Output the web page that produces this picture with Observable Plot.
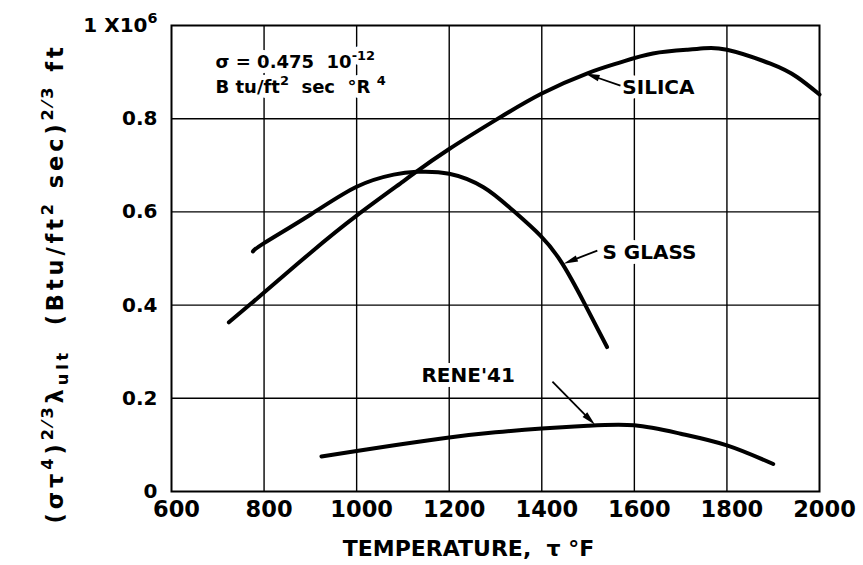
<!DOCTYPE html>
<html><head><meta charset="utf-8">
<script src="https://cdn.jsdelivr.net/npm/d3@7"></script>
<script src="https://cdn.jsdelivr.net/npm/@observablehq/plot@0.6"></script>
<style>
body{margin:0;background:#fff}
#chart svg{font-family:"DejaVu Sans",sans-serif;font-weight:bold;background:#fff;color:#000}
</style>
</head><body><div id="chart"></div>
<script>
// ---- data (values in units of 10^6) ----
const silicaT = [724, 774, 800, 900, 1000, 1100, 1127, 1200, 1300, 1400, 1500, 1570, 1640, 1715, 1750, 1800, 1894, 1952, 2000];
const silicaV = [0.363, 0.405, 0.427, 0.512, 0.592, 0.665, 0.685, 0.735, 0.797, 0.854, 0.898, 0.921, 0.940, 0.948, 0.951, 0.948, 0.918, 0.889, 0.852];
const sglassT = [776, 800, 900, 1000, 1080, 1130, 1200, 1274, 1332, 1397, 1445, 1491, 1541];
const sglassV = [0.515, 0.533, 0.594, 0.654, 0.680, 0.686, 0.682, 0.653, 0.608, 0.549, 0.488, 0.406, 0.310];
const reneT = [924, 1000, 1100, 1200, 1300, 1400, 1500, 1600, 1700, 1800, 1900];
const reneV = [0.075, 0.087, 0.102, 0.116, 0.127, 0.135, 0.141, 0.142, 0.124, 0.099, 0.059];

const xTicks = [600, 800, 1000, 1200, 1400, 1600, 1800, 2000];
const yTicks = [0, 0.2, 0.4, 0.6, 0.8, 1];
const yTickLabels = ["0", "0.2", "0.4", "0.6", "0.8", "1 X10^{6}"];
const xGrid = [800, 1000, 1200, 1400, 1600, 1800];
const yGrid = [0.2, 0.4, 0.6, 0.8];

const seriesNames = ["SILICA", "S GLASS", "RENE'41"];
const labelT = [1574, 1531, 1140];
const labelV = [0.854, 0.498, 0.236];
const arrowTailT = [1570, 1520, 1423];
const arrowTailV = [0.871, 0.517, 0.236];
const arrowTipT = [1494, 1447, 1515];
const arrowTipV = [0.897, 0.489, 0.143];

const noteLines = ["σ = 0.475  10^{-12}", "B tu/ft^{2}  sec  °R ^{4}"];
const noteT = [695, 695];
const noteV = [0.908, 0.856];

const xLabel = "TEMPERATURE,  τ °F";
const yLabel = "(στ^{4})^{2⁄3}λ_{ult}  (Btu/ft^{2} sec)^{2⁄3} ft";

// ---- tables ----
const curves = [
  {name: seriesNames[0], T: silicaT, V: silicaV},
  {name: seriesNames[1], T: sglassT, V: sglassV},
  {name: seriesNames[2], T: reneT, V: reneV}
];
const rows = curves.flatMap(c => c.T.map((t, i) => ({series: c.name, t, v: c.V[i]})));
const labels = seriesNames.map((s, i) => ({text: s, t: labelT[i], v: labelV[i]}));
const arrows = seriesNames.map((s, i) => ({t1: arrowTailT[i], v1: arrowTailV[i], t2: arrowTipT[i], v2: arrowTipV[i]}));
const notes = noteLines.map((s, i) => ({text: s, t: noteT[i], v: noteV[i]}));

const base = {
  width: 863, height: 565,
  marginLeft: 171, marginRight: 44, marginTop: 25, marginBottom: 74,
  x: {domain: [600, 2000]},
  y: {domain: [0, 1]}
};

// probe scales to orient the filled arrowheads
const probe = Plot.plot({...base, marks: [Plot.frame()]});
const sx = probe.scale("x"), sy = probe.scale("y");
const lin = (s) => {
  const [d0, d1] = s.domain, [r0, r1] = s.range;
  return {f: v => r0 + (v - d0) / (d1 - d0) * (r1 - r0), inv: p => d0 + (p - r0) / (r1 - r0) * (d1 - d0)};
};
const LX = lin(sx), LY = lin(sy);
const headR = 5.6;
const headS = Math.sqrt(Math.PI * headR * headR);
const heads = arrows.map(a => {
  const x1 = LX.f(a.t1), y1 = LY.f(a.v1), x2 = LX.f(a.t2), y2 = LY.f(a.v2);
  const L = Math.hypot(x2 - x1, y2 - y1), ux = (x2 - x1) / L, uy = (y2 - y1) / L;
  const cx = x2 - ux * headS, cy = y2 - uy * headS;
  return {t: LX.inv(cx), v: LY.inv(cy), angle: Math.atan2(ux, -uy) * 180 / Math.PI};
});
const shafts = arrows.map((a, i) => ({t1: a.t1, v1: a.v1, t2: heads[i].t, v2: heads[i].v}));
const arrowHead = {
  draw(ctx, size) {
    const s = Math.sqrt(size);
    ctx.moveTo(0, -s);
    ctx.lineTo(0.33 * s, 0.45 * s);
    ctx.lineTo(-0.33 * s, 0.45 * s);
    ctx.closePath();
  }
};

const haloStyle = {fill: "white", stroke: "white", strokeWidth: 10};
const inkStyle = {fill: "black"};

const plot = Plot.plot({
  ...base,
  style: {fontFamily: "DejaVu Sans", fontWeight: "bold", background: "white", color: "black"},
  marks: [
    Plot.gridX(xGrid, {stroke: "black", strokeOpacity: 1, strokeWidth: 1.4}),
    Plot.gridY(yGrid, {stroke: "black", strokeOpacity: 1, strokeWidth: 1.4}),
    Plot.frame({stroke: "black", strokeWidth: 2}),
    Plot.axisX(xTicks, {tickSize: 0, tickPadding: 10, dx: 5, fontSize: 22.5, tickFormat: d => String(d), label: null}),
    Plot.axisY(yTicks, {tickSize: 0, tickPadding: 14, fontSize: 20, tickFormat: d => yTickLabels[yTicks.indexOf(d)], label: null}),
    // halos (break the grid behind the lettering)
    Plot.text(notes, {x: "t", y: "v", text: "text", textAnchor: "start", lineAnchor: "bottom", fontSize: 18, fontWeight: "bold", ...haloStyle}),
    Plot.text(labels, {x: "t", y: "v", text: "text", textAnchor: "start", lineAnchor: "bottom", fontSize: 20, fontWeight: "bold", ...haloStyle}),
    // ink
    Plot.text(notes, {x: "t", y: "v", text: "text", textAnchor: "start", lineAnchor: "bottom", fontSize: 18, fontWeight: "bold", ...inkStyle}),
    Plot.text(labels, {x: "t", y: "v", text: "text", textAnchor: "start", lineAnchor: "bottom", fontSize: 20, fontWeight: "bold", ...inkStyle}),
    Plot.line(rows, {x: "t", y: "v", z: "series", stroke: "black", strokeWidth: 4, curve: "natural", strokeLinecap: "round"}),
    Plot.link(shafts, {x1: "t1", y1: "v1", x2: "t2", y2: "v2", stroke: "black", strokeWidth: 1.8}),
    Plot.dot(heads, {x: "t", y: "v", r: headR, symbol: arrowHead, rotate: "angle", fill: "black", stroke: "none"}),
    Plot.text([xLabel], {frameAnchor: "bottom", dx: -27, dy: 57, text: d => d, fontSize: 22, fontWeight: "bold", fill: "black", lineAnchor: "middle"}),
    Plot.text([yLabel], {frameAnchor: "left", rotate: -90, dx: -116, dy: 265, text: d => d, textAnchor: "start", fontSize: 22.5, fontWeight: "bold", fill: "black", lineAnchor: "middle"})
  ]
});

document.getElementById("chart").appendChild(plot);

// rich text: ^{..} superscript, _{..} subscript
function richText(svg) {
  svg.querySelectorAll("text").forEach(t => {
    const s = t.textContent;
    if (!/[\^_]\{/.test(s)) return;
    const fs = parseFloat(getComputedStyle(t).fontSize) || 16;
    const parts = s.split(/(\^\{[^}]*\}|_\{[^}]*\})/).filter(p => p !== "");
    while (t.firstChild) t.removeChild(t.firstChild);
    let shift = 0;
    for (const p of parts) {
      const ts = document.createElementNS("http://www.w3.org/2000/svg", "tspan");
      let target = 0, content = p, size = null;
      if (p.startsWith("^{")) { target = -0.45 * fs; content = p.slice(2, -1); size = 0.72 * fs; }
      else if (p.startsWith("_{")) { target = 0.22 * fs; content = p.slice(2, -1); size = 0.72 * fs; }
      ts.setAttribute("dy", (target - shift).toFixed(2));
      shift = target;
      if (size) ts.setAttribute("font-size", size.toFixed(2));
      ts.textContent = content;
      t.appendChild(ts);
    }
  });
}
richText(plot);

// spread the rotated axis title along the same span as the reference lettering
const yl = Array.from(plot.querySelectorAll("text")).find(t => t.textContent.includes("λ"));
if (yl) {
  const target = 480;
  let L = 0;
  try { L = yl.getComputedTextLength(); } catch (e) { L = 0; }
  const n = yl.textContent.length;
  let ls = (L > 0 && L < target) ? (target - L) / n : 3;
  yl.setAttribute("letter-spacing", ls.toFixed(2));
  yl.style.letterSpacing = ls.toFixed(2) + "px";
}
</script>
</body></html>
